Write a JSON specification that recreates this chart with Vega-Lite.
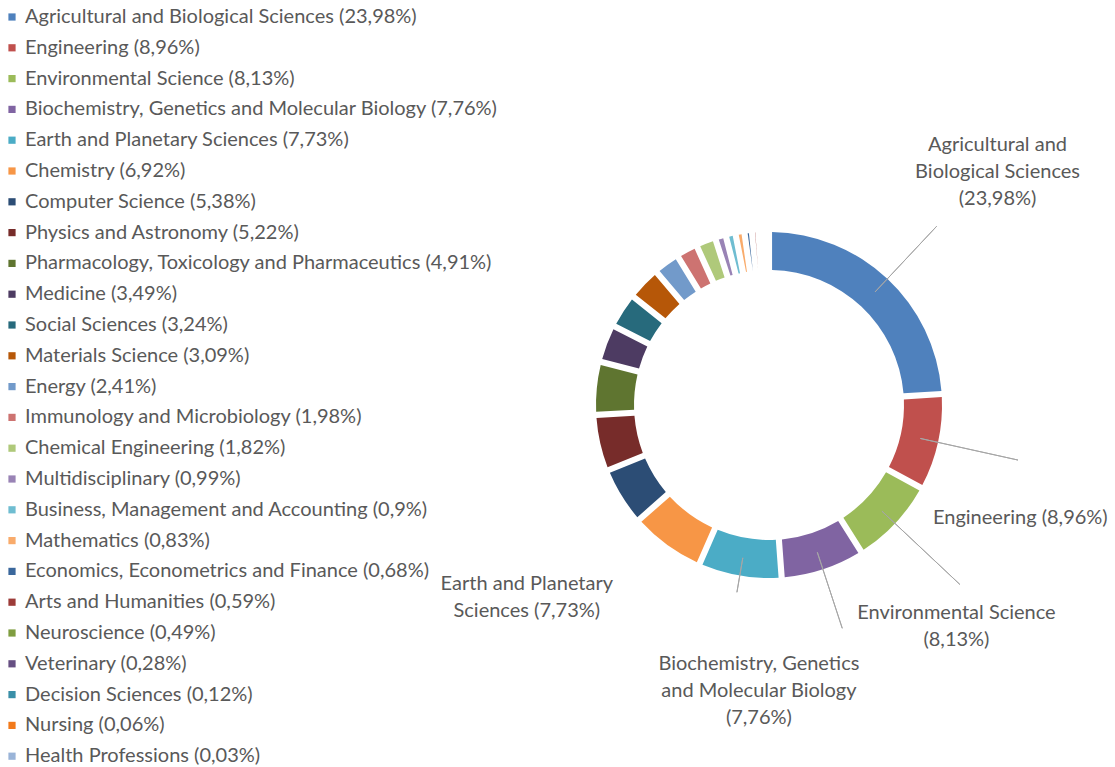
{
  "$schema": "https://vega.github.io/schema/vega-lite/v6.json",
  "autosize": "none",
  "width": 692,
  "height": 692,
  "padding": {"left": 423, "top": 59, "right": 0, "bottom": 16},
  "background": "white",
  "config": {"view": {"stroke": null}, "font": "Lato"},
  "data": {"values": [
    {"idx": 1, "name": "Agricultural and Biological Sciences (23,98%)", "share": 23.98, "label": "Agricultural and\nBiological Sciences\n(23,98%)"},
    {"idx": 2, "name": "Engineering (8,96%)", "share": 8.96, "label": "Engineering (8,96%)"},
    {"idx": 3, "name": "Environmental Science (8,13%)", "share": 8.13, "label": "Environmental Science\n(8,13%)"},
    {"idx": 4, "name": "Biochemistry, Genetics and Molecular Biology (7,76%)", "share": 7.76, "label": "Biochemistry, Genetics\nand Molecular Biology\n(7,76%)"},
    {"idx": 5, "name": "Earth and Planetary Sciences (7,73%)", "share": 7.73, "label": "Earth and Planetary\nSciences (7,73%)"},
    {"idx": 6, "name": "Chemistry (6,92%)", "share": 6.92, "label": ""},
    {"idx": 7, "name": "Computer Science (5,38%)", "share": 5.38, "label": ""},
    {"idx": 8, "name": "Physics and Astronomy (5,22%)", "share": 5.22, "label": ""},
    {"idx": 9, "name": "Pharmacology, Toxicology and Pharmaceutics (4,91%)", "share": 4.91, "label": ""},
    {"idx": 10, "name": "Medicine (3,49%)", "share": 3.49, "label": ""},
    {"idx": 11, "name": "Social Sciences (3,24%)", "share": 3.24, "label": ""},
    {"idx": 12, "name": "Materials Science (3,09%)", "share": 3.09, "label": ""},
    {"idx": 13, "name": "Energy (2,41%)", "share": 2.41, "label": ""},
    {"idx": 14, "name": "Immunology and Microbiology (1,98%)", "share": 1.98, "label": ""},
    {"idx": 15, "name": "Chemical Engineering (1,82%)", "share": 1.82, "label": ""},
    {"idx": 16, "name": "Multidisciplinary (0,99%)", "share": 0.99, "label": ""},
    {"idx": 17, "name": "Business, Management and Accounting (0,9%)", "share": 0.9, "label": ""},
    {"idx": 18, "name": "Mathematics (0,83%)", "share": 0.83, "label": ""},
    {"idx": 19, "name": "Economics, Econometrics and Finance (0,68%)", "share": 0.68, "label": ""},
    {"idx": 20, "name": "Arts and Humanities (0,59%)", "share": 0.59, "label": ""},
    {"idx": 21, "name": "Neuroscience (0,49%)", "share": 0.49, "label": ""},
    {"idx": 22, "name": "Veterinary (0,28%)", "share": 0.28, "label": ""},
    {"idx": 23, "name": "Decision Sciences (0,12%)", "share": 0.12, "label": ""},
    {"idx": 24, "name": "Nursing (0,06%)", "share": 0.06, "label": ""},
    {"idx": 25, "name": "Health Professions (0,03%)", "share": 0.03, "label": ""}
  ]},
  "transform": [
    {"stack": "share", "groupby": [], "sort": [{"field": "idx", "order": "ascending"}], "as": ["s0", "s1"]}
  ],
  "encoding": {
    "theta": {"field": "s0", "type": "quantitative", "stack": null, "scale": {"domain": [0, 99.99]}},
    "theta2": {"field": "s1"}
  },
  "layer": [
    {
      "mark": {"type": "arc", "innerRadius": 135, "outerRadius": 173, "padAngle": 0.028},
      "encoding": {
        "color": {
          "field": "name", "type": "nominal", "sort": null,
          "scale": {
            "domain": ["Agricultural and Biological Sciences (23,98%)", "Engineering (8,96%)", "Environmental Science (8,13%)", "Biochemistry, Genetics and Molecular Biology (7,76%)", "Earth and Planetary Sciences (7,73%)", "Chemistry (6,92%)", "Computer Science (5,38%)", "Physics and Astronomy (5,22%)", "Pharmacology, Toxicology and Pharmaceutics (4,91%)", "Medicine (3,49%)", "Social Sciences (3,24%)", "Materials Science (3,09%)", "Energy (2,41%)", "Immunology and Microbiology (1,98%)", "Chemical Engineering (1,82%)", "Multidisciplinary (0,99%)", "Business, Management and Accounting (0,9%)", "Mathematics (0,83%)", "Economics, Econometrics and Finance (0,68%)", "Arts and Humanities (0,59%)", "Neuroscience (0,49%)", "Veterinary (0,28%)", "Decision Sciences (0,12%)", "Nursing (0,06%)", "Health Professions (0,03%)"],
            "range": ["#4F81BD", "#C0504D", "#9BBB59", "#8064A2", "#4BACC6", "#F79646", "#2C4D75", "#772C2A", "#5F7530", "#4D3B62", "#276A7C", "#B65708", "#729ACA", "#CD7371", "#AFC97A", "#9983B5", "#6FBDD1", "#F9AB6B", "#3A679C", "#9C3B38", "#7F9D40", "#664F82", "#3A8FA8", "#F27A1B", "#9AB4D8"]
          },
          "legend": {
            "title": null, "orient": "none", "legendX": -421, "legendY": -52,
            "symbolType": "square", "symbolSize": 52, "symbolStrokeWidth": 0,
            "labelFontSize": 20, "labelColor": "#595959", "labelFont": "Lato",
            "labelOffset": 3, "rowPadding": 10.8, "labelLimit": 700
          }
        }
      }
    },
    {"transform": [{"filter": "datum.idx === 1"}],
     "mark": {"type": "arc", "innerRadius": 155, "outerRadius": 245, "thetaOffset": 0.7534, "theta2Offset": -0.7534, "fill": null, "stroke": "#A6A6A6", "strokeWidth": 1}},
    {"transform": [{"filter": "datum.idx === 2"}],
     "mark": {"type": "arc", "innerRadius": 155, "outerRadius": 255, "thetaOffset": 0.2815, "theta2Offset": -0.2815, "fill": null, "stroke": "#A6A6A6", "strokeWidth": 1}},
    {"transform": [{"filter": "datum.idx === 3"}],
     "mark": {"type": "arc", "innerRadius": 155, "outerRadius": 262, "thetaOffset": 0.2554, "theta2Offset": -0.2554, "fill": null, "stroke": "#A6A6A6", "strokeWidth": 1}},
    {"transform": [{"filter": "datum.idx === 4"}],
     "mark": {"type": "arc", "innerRadius": 155, "outerRadius": 235, "thetaOffset": 0.2438, "theta2Offset": -0.2438, "fill": null, "stroke": "#A6A6A6", "strokeWidth": 1}},
    {"transform": [{"filter": "datum.idx === 5"}],
     "mark": {"type": "arc", "innerRadius": 155, "outerRadius": 190, "thetaOffset": 0.2429, "theta2Offset": -0.2429, "fill": null, "stroke": "#A6A6A6", "strokeWidth": 1}},
    {"transform": [{"filter": "datum.idx === 1"}],
     "mark": {"type": "text", "align": "center", "baseline": "middle", "fontSize": 20, "lineHeight": 27, "lineBreak": "\n", "color": "#595959", "radius": 155, "thetaOffset": 0.7534, "dx": 122.5, "dy": -147},
     "encoding": {"theta2": null, "text": {"field": "label"}}},
    {"transform": [{"filter": "datum.idx === 2"}],
     "mark": {"type": "text", "align": "center", "baseline": "middle", "fontSize": 20, "lineHeight": 27, "lineBreak": "\n", "color": "#595959", "radius": 155, "thetaOffset": 0.2815, "dx": 100, "dy": 80},
     "encoding": {"theta2": null, "text": {"field": "label"}}},
    {"transform": [{"filter": "datum.idx === 3"}],
     "mark": {"type": "text", "align": "center", "baseline": "middle", "fontSize": 20, "lineHeight": 27, "lineBreak": "\n", "color": "#595959", "radius": 155, "thetaOffset": 0.2554, "dx": 74.5, "dy": 102},
     "encoding": {"theta2": null, "text": {"field": "label"}}},
    {"transform": [{"filter": "datum.idx === 4"}],
     "mark": {"type": "text", "align": "center", "baseline": "middle", "fontSize": 20, "lineHeight": 27, "lineBreak": "\n", "color": "#595959", "radius": 155, "thetaOffset": 0.2438, "dx": -58.4, "dy": 112},
     "encoding": {"theta2": null, "text": {"field": "label"}}},
    {"transform": [{"filter": "datum.idx === 5"}],
     "mark": {"type": "text", "align": "center", "baseline": "middle", "fontSize": 20, "lineHeight": 27, "lineBreak": "\n", "color": "#595959", "radius": 155, "thetaOffset": 0.2429, "dx": -216, "dy": 26.5},
     "encoding": {"theta2": null, "text": {"field": "label"}}}
  ]
}
